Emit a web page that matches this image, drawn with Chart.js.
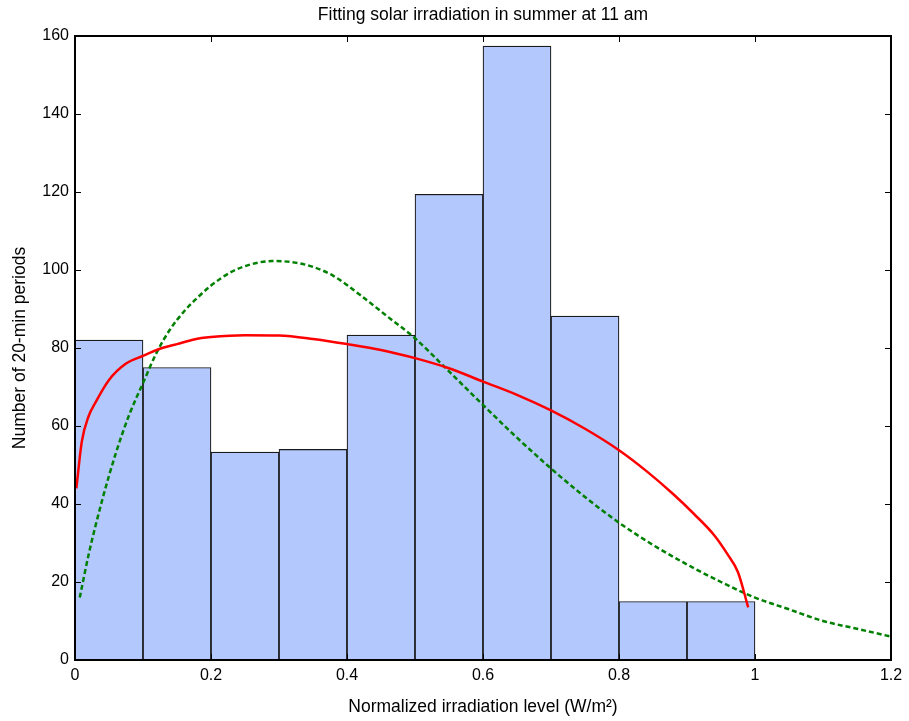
<!DOCTYPE html>
<html>
<head>
<meta charset="utf-8">
<title>Fitting solar irradiation in summer at 11 am</title>
<script src="https://cdn.jsdelivr.net/npm/chart.js@4/dist/chart.umd.min.js"></script>
<style>
  html, body { margin: 0; padding: 0; background: #fff; }
  #wrap { width: 909px; height: 721px; }
</style>
</head>
<body>
<div id="wrap"><canvas id="chart"></canvas></div>
<script>
// histogram bins (bin centres) and counts
var binCenters = [0.05, 0.15, 0.25, 0.35, 0.45, 0.55, 0.65, 0.75, 0.85, 0.95];
var binCounts = [82, 75, 53.3, 54, 83.3, 119.4, 157.4, 88.2, 15, 15];

// solid red fit
var redX = [0.002, 0.01, 0.02, 0.03, 0.05, 0.075, 0.1, 0.125, 0.15, 0.175, 0.2, 0.25, 0.3, 0.35,
  0.4, 0.45, 0.5, 0.55, 0.6, 0.65, 0.7, 0.75, 0.8, 0.84, 0.88, 0.91, 0.94, 0.96, 0.975, 0.99];
var redY = [44, 56, 62.5, 66, 71.8, 76, 78, 79.8, 81, 82.2, 82.8, 83.3, 83.2, 82.3,
  81, 79.5, 77.4, 74.8, 71.4, 68, 64, 59.3, 53.8, 48.5, 42.5, 37.5, 32, 27, 22.5, 13.5];

// dashed green fit
var greenX = [0.007, 0.02, 0.04, 0.06, 0.08, 0.1, 0.12, 0.14, 0.16, 0.18, 0.2, 0.23, 0.26, 0.29,
  0.32, 0.35, 0.38, 0.42, 0.46, 0.5, 0.55, 0.6, 0.65, 0.7, 0.75, 0.8, 0.85, 0.9, 0.95, 1.0,
  1.05, 1.1, 1.15, 1.2];
var greenY = [16, 27, 41, 53, 63, 71, 78.8, 84.8, 89.3, 92.9, 96, 99.5, 101.5, 102.3,
  102, 100.8, 98.5, 93.5, 88, 82.5, 74, 65.4, 57, 49.1, 41.8, 35.2, 29.5, 24.5, 20, 16,
  13, 10, 8, 6];

var xTicks = [0, 0.2, 0.4, 0.6, 0.8, 1, 1.2];
var yTicks = [0, 20, 40, 60, 80, 100, 120, 140, 160];

function pairs(xs, ys) {
  return xs.map(function (x, i) { return {x: x, y: ys[i]}; });
}

var family = '"Liberation Sans", Arial, sans-serif';
var tickFont = {family: family, size: 16};
var titleFont = {family: family, size: 17.5};

// box around the plot and inward tick marks on all four sides
var axesBox = {
  id: 'axesBox',
  afterDraw: function (chart) {
    var ctx = chart.ctx;
    var a = chart.chartArea;
    var sx = chart.scales.x, sy = chart.scales.y;
    var len = 6;
    ctx.save();
    ctx.strokeStyle = '#000';
    ctx.lineWidth = 1;
    ctx.beginPath();
    xTicks.forEach(function (v) {
      var px = Math.round(sx.getPixelForValue(v)) + 0.5;
      ctx.moveTo(px, a.bottom); ctx.lineTo(px, a.bottom - len);
      ctx.moveTo(px, a.top); ctx.lineTo(px, a.top + len);
    });
    yTicks.forEach(function (v) {
      var py = Math.round(sy.getPixelForValue(v)) + 0.5;
      ctx.moveTo(a.left, py); ctx.lineTo(a.left + len, py);
      ctx.moveTo(a.right, py); ctx.lineTo(a.right - len, py);
    });
    ctx.stroke();
    ctx.lineWidth = 2;
    ctx.strokeRect(a.left, a.top, a.right - a.left, a.bottom - a.top);
    ctx.restore();
  }
};

var ctx = document.getElementById('chart');
new Chart(ctx, {
  type: 'bar',
  data: {
    datasets: [{
      type: 'line',
      xAxisID: 'x',
      yAxisID: 'y',
      data: pairs(redX, redY),
      borderColor: '#ff0000',
      borderWidth: 2.5,
      pointRadius: 0,
      cubicInterpolationMode: 'monotone',
      fill: false,
      order: 1
    }, {
      type: 'line',
      xAxisID: 'x',
      yAxisID: 'y',
      data: pairs(greenX, greenY),
      borderColor: '#008000',
      borderWidth: 2.5,
      borderDash: [5, 3],
      pointRadius: 0,
      cubicInterpolationMode: 'monotone',
      fill: false,
      order: 2
    }, {
      type: 'bar',
      xAxisID: 'x',
      yAxisID: 'y',
      data: pairs(binCenters, binCounts),
      backgroundColor: 'rgb(179, 200, 252)',
      borderColor: '#1a1a1a',
      borderWidth: 1.2,
      barPercentage: 1,
      categoryPercentage: 1,
      order: 3
    }]
  },
  options: {
    responsive: true,
    maintainAspectRatio: false,
    animation: false,
    layout: {padding: {left: 0, right: 18, top: 0, bottom: 0}},
    plugins: {
      legend: {display: false},
      tooltip: {enabled: false}
    },
    scales: {
      x: {
        type: 'linear',
        min: 0,
        max: 1.2,
        offset: false,
        afterBuildTicks: function (s) {
          s.ticks = xTicks.map(function (v) { return {value: v}; });
        },
        afterFit: function (s) { s.height = 61; },
        grid: {display: false, drawTicks: false},
        border: {display: false},
        ticks: {
          color: '#000',
          font: tickFont,
          padding: 6,
          maxRotation: 0,
          autoSkip: false,
          callback: function (v) { return String(Math.round(v * 10) / 10); }
        },
        title: {
          display: true,
          text: 'Normalized irradiation level (W/m²)',
          color: '#000',
          font: titleFont,
          padding: {top: 0, bottom: 3.5}
        }
      },
      // top axis only carries the chart title, centred over the plot
      xTop: {
        type: 'linear',
        position: 'top',
        min: 0,
        max: 1.2,
        offset: false,
        afterFit: function (s) { s.height = 36; },
        grid: {display: false, drawTicks: false},
        border: {display: false},
        ticks: {display: false},
        title: {
          display: true,
          text: 'Fitting solar irradiation in summer at 11 am',
          color: '#000',
          font: titleFont,
          padding: {top: 5, bottom: 0}
        }
      },
      y: {
        min: 0,
        max: 160,
        afterBuildTicks: function (s) {
          s.ticks = yTicks.map(function (v) { return {value: v}; });
        },
        afterFit: function (s) { s.width = 75; },
        grid: {display: false, drawTicks: false},
        border: {display: false},
        ticks: {
          color: '#000',
          font: tickFont,
          padding: 6,
          autoSkip: false
        },
        title: {
          display: true,
          text: 'Number of 20-min periods',
          color: '#000',
          font: titleFont,
          padding: {top: 10, bottom: 0}
        }
      }
    }
  },
  plugins: [axesBox]
});
</script>
</body>
</html>
